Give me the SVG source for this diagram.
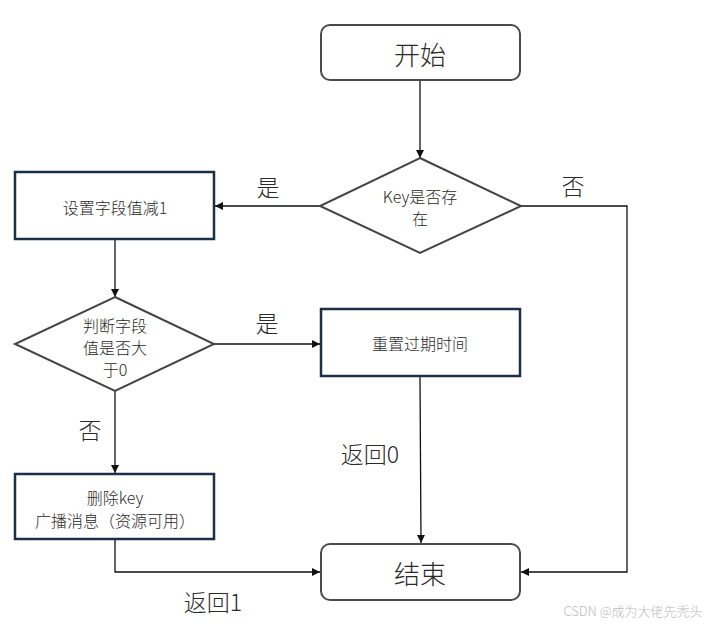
<svg xmlns="http://www.w3.org/2000/svg" width="714" height="624" viewBox="0 0 714 624">
<style>
text{font-family:"Noto Sans CJK SC","Noto Sans",sans-serif;fill:#2a2a2a;text-anchor:middle;dominant-baseline:central;font-weight:300}
.term{fill:#fff;stroke:#4a4a4a;stroke-width:2}
.proc{fill:#fff;stroke:#1c2e48;stroke-width:2.5}
.dec{fill:#fff;stroke:#444;stroke-width:2}
.big{font-size:26px}
.lbl{font-size:23px}
.sm{font-size:16px}
.conn{fill:none;stroke:#111;stroke-width:1.3}
</style>
<defs>
<marker id="ah" viewBox="0 0 10 10" refX="10" refY="5" markerWidth="8" markerHeight="8" markerUnits="userSpaceOnUse" orient="auto">
<path d="M0,0L10,5L0,10z" fill="#111"/>
</marker>
</defs>
<rect width="714" height="624" fill="#fff"/>
<g id="connectors">
<path class="conn" d="M420,80V158" marker-end="url(#ah)"/>
<path class="conn" d="M320,206H215" marker-end="url(#ah)"/>
<path class="conn" d="M521,206H627V572H521" marker-end="url(#ah)"/>
<path class="conn" d="M115,240V297" marker-end="url(#ah)"/>
<path class="conn" d="M214,344H320" marker-end="url(#ah)"/>
<path class="conn" d="M115,391V473" marker-end="url(#ah)"/>
<path class="conn" d="M420,377L421,543" marker-end="url(#ah)"/>
<path class="conn" d="M115,540V572H320" marker-end="url(#ah)"/>
</g>
<g id="start"><rect class="term" x="321" y="25" width="199" height="55" rx="9"/><text class="big" x="420" y="53">开始</text></g>
<g id="keyExists"><polygon class="dec" points="420,158 521,206 420,253 320,206"/><text class="sm" x="420" y="196">Key是否存</text><text class="sm" x="420" y="218">在</text></g>
<g id="decrement"><rect class="proc" x="15" y="172" width="199" height="67"/><text class="sm" x="115" y="207">设置字段值减1</text></g>
<g id="checkPositive"><polygon class="dec" points="115,297 214,344 115,391 15,344"/><text class="sm" x="115" y="325">判断字段</text><text class="sm" x="115" y="347">值是否大</text><text class="sm" x="115" y="369">于0</text></g>
<g id="resetExpire"><rect class="proc" x="321" y="309" width="199" height="67"/><text class="sm" x="420" y="343">重置过期时间</text></g>
<g id="deleteKey"><rect class="proc" x="15" y="474" width="199" height="65"/><text class="sm" x="115" y="497">删除key</text><text class="sm" x="115" y="520">广播消息（资源可用）</text></g>
<g id="end"><rect class="term" x="321" y="544" width="199" height="56" rx="9"/><text class="big" x="420" y="572">结束</text></g>
<g id="labels">
<text class="lbl" x="268" y="186">是</text>
<text class="lbl" x="573" y="185">否</text>
<text class="lbl" x="267" y="322">是</text>
<text class="lbl" x="90" y="429">否</text>
<text class="lbl" x="370" y="453">返回0</text>
<text class="lbl" x="213" y="601">返回1</text>
<text x="633" y="610" style="font-size:13px;fill:#bbb">CSDN @成为大佬先秃头</text>
</g>
</svg>
